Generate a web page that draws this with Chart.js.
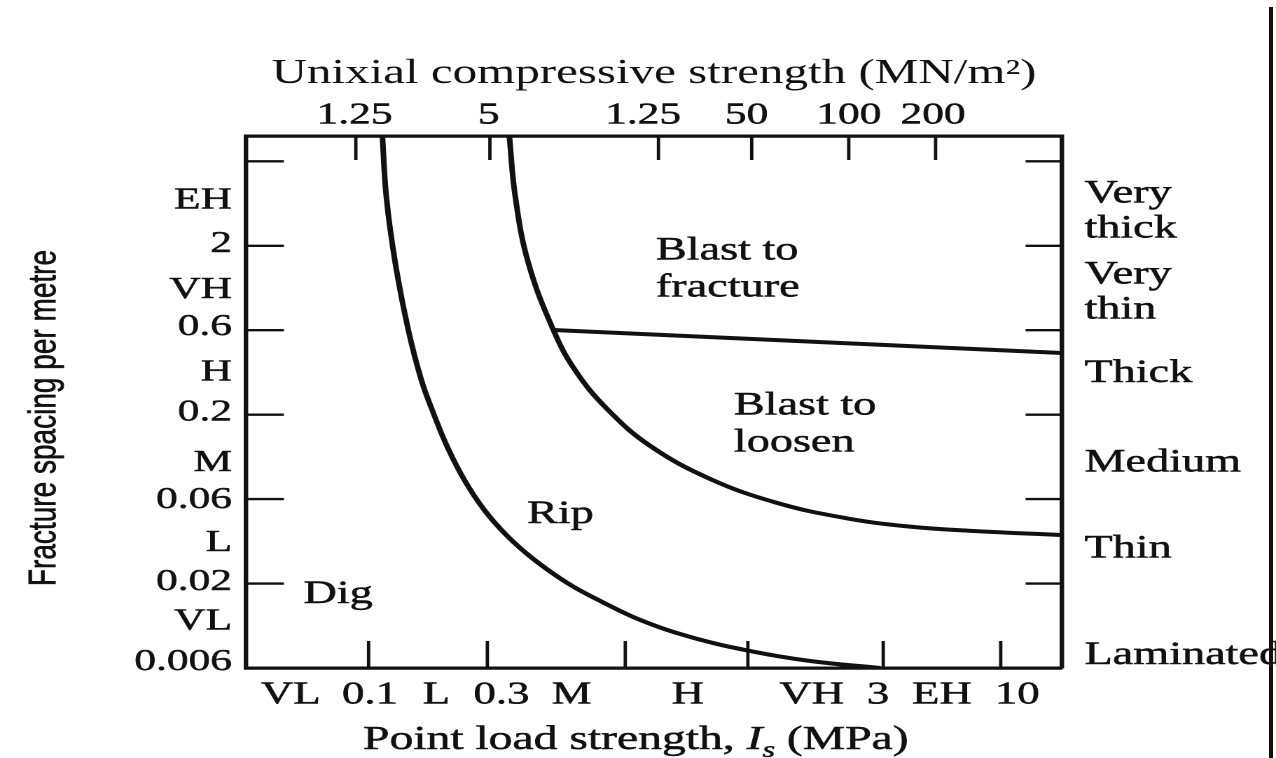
<!DOCTYPE html>
<html>
<head>
<meta charset="utf-8">
<title>Excavatability chart</title>
<script src="https://cdn.jsdelivr.net/npm/chart.js@4.4.1/dist/chart.umd.min.js"></script>
<style>
  html, body { margin: 0; padding: 0; background: #fff; overflow: hidden; }
  #stage { position: absolute; left: 0; top: 0; transform-origin: 0 0; }
  #edge { position: absolute; left: 1269px; top: 7px; width: 4px; height: 751px; background: #111; }
</style>
</head>
<body>
<div id="stage"><canvas id="chart"></canvas></div>
<div id="edge"></div>
<script>
// x and y run in class steps: each tick is one strength / spacing class boundary
const xMin = 0.06, xMax = 6.45;
const yMin = 0, yMax = 6.3;

// bottom axis - point load strength
const bottomLabels = ['VL', '0.1', 'L', '0.3', 'M', 'H', 'VH', '3', 'EH', '10'];
const bottomLabelPos = [0.41, 1.03, 1.55, 2.06, 2.61, 3.52, 4.49, 5.01, 5.51, 6.1];
const bottomTickPos = [1.02, 1.95, 3.03, 3.99, 5.05, 5.97];

// top axis - uniaxial compressive strength
const topLabels = ['1.25', '5', '1.25', '50', '100', '200'];
const topLabelPos = [0.91, 1.96, 3.17, 3.98, 4.78, 5.44];
const topTickPos = [0.92, 1.97, 3.29, 4.02, 4.78, 5.46];

// left axis - fracture spacing and class
const leftLabels = ['0.006', 'VL', '0.02', 'L', '0.06', 'M', '0.2', 'H', '0.6', 'VH', '2', 'EH'];
const leftLabelPos = [0.07, 0.55, 1.02, 1.48, 1.99, 2.43, 3.03, 3.5, 4.04, 4.48, 5.02, 5.54];
const sideTickPos = [1, 2, 3, 4, 5, 6];

// right axis - spacing description
const rightLabels = [['Laminated'], ['Thin'], ['Medium'], ['Thick'], ['Very', 'thin'], ['Very', 'thick']];
const rightLabelPos = [0.15, 1.41, 2.43, 3.49, 4.45, 5.41];

// Dig / Rip boundary
const digRipX = [1.128, 1.159, 1.229, 1.331, 1.433, 1.527, 1.637, 1.77, 1.926, 2.106, 2.31, 2.576, 2.835, 3.148, 3.54, 4.009, 4.479, 5.027];
const digRipY = [6.3, 5.578, 4.796, 4.003, 3.411, 3.02, 2.617, 2.226, 1.871, 1.563, 1.291, 1.007, 0.793, 0.568, 0.367, 0.201, 0.083, 0];

// Rip / Blast boundary
const ripBlastX = [2.122, 2.169, 2.271, 2.467, 2.639, 2.89, 3.226, 3.696, 4.221, 4.753, 5.239, 5.756, 6.45];
const ripBlastY = [6.3, 5.578, 4.796, 4.003, 3.523, 3.064, 2.629, 2.238, 1.954, 1.776, 1.677, 1.622, 1.575];

// Blast to loosen / Blast to fracture boundary
const fractureX = [2.467, 6.45];
const fractureY = [4.003, 3.73];

const zoneNames = [['Blast to', 'fracture'], ['Blast to', 'loosen'], ['Rip'], ['Dig']];

const topTitle = 'Unixial compressive strength (MN/m\u00b2)';
const leftTitle = 'Fracture spacing per metre';

// the scan is stretched sideways: draw narrower and widen the box
const pageW = 1276, pageH = 758;
const canvasW = 911, canvasH = 758;
const sx = pageW / canvasW;
const plotLeft = 246 / sx, plotRight = 1062 / sx, plotTop = 136, plotBottom = 668;

const ink = '#111';
const serif = '"Liberation Serif", "DejaVu Serif", serif';
const sans = '"Liberation Sans", "DejaVu Sans", sans-serif';
const heavy = 0.5;

const zoneAnchors = [[3.27, 4.84], [3.88, 3.0], [2.26, 1.72], [0.51, 0.77]];

const canvas = document.getElementById('chart');
canvas.width = canvasW;
canvas.height = canvasH;
document.getElementById('stage').style.transform = `scaleX(${sx})`;

const pairs = (xs, ys) => xs.map((x, i) => ({ x, y: ys[i] }));

function inkText(ctx, t, x, y) {
    ctx.fillText(t, x, y);
    ctx.strokeText(t, x, y);
}

const figureMarks = {
    id: 'figureMarks',
    afterDraw(chart) {
        const { ctx, chartArea: a, scales } = chart;
        ctx.save();

        // inward tick marks
        ctx.strokeStyle = ink;
        ctx.lineWidth = 2.4;
        ctx.beginPath();
        bottomTickPos.forEach(v => {
            const px = scales.x.getPixelForValue(v);
            ctx.moveTo(px, a.bottom);
            ctx.lineTo(px, a.bottom - 27);
        });
        topTickPos.forEach(v => {
            const px = scales.xTop.getPixelForValue(v);
            ctx.moveTo(px, a.top);
            ctx.lineTo(px, a.top + 24);
        });
        sideTickPos.forEach(v => {
            const py = scales.y.getPixelForValue(v);
            ctx.moveTo(a.left, py);
            ctx.lineTo(a.left + 27, py);
            ctx.moveTo(a.right, py);
            ctx.lineTo(a.right - 26, py);
        });
        ctx.stroke();

        // zone names
        ctx.fillStyle = ink;
        ctx.lineWidth = heavy;
        ctx.font = `33px ${serif}`;
        ctx.textAlign = 'left';
        ctx.textBaseline = 'alphabetic';
        zoneNames.forEach((lines, i) => {
            const px = scales.x.getPixelForValue(zoneAnchors[i][0]);
            const py = scales.y.getPixelForValue(zoneAnchors[i][1]);
            lines.forEach((t, k) => inkText(ctx, t, px, py + k * 37));
        });

        // bottom title, with italic I and subscript s
        const parts = [
            { t: 'Point load strength, ', f: `34px ${serif}`, dy: 0 },
            { t: 'I', f: `italic 34px ${serif}`, dy: 0 },
            { t: 's', f: `italic 23px ${serif}`, dy: 8 },
            { t: ' (MPa)', f: `34px ${serif}`, dy: 0 }
        ];
        let total = 0;
        parts.forEach(p => { ctx.font = p.f; p.w = ctx.measureText(p.t).width; total += p.w; });
        let cx = (a.left + a.right) / 2 - 13 - total / 2;
        parts.forEach(p => {
            ctx.font = p.f;
            inkText(ctx, p.t, cx, 749 + p.dy);
            cx += p.w;
        });

        // left title
        ctx.translate(32, 418);
        ctx.rotate(-Math.PI / 2);
        ctx.font = `28px ${sans}`;
        ctx.textAlign = 'center';
        ctx.textBaseline = 'middle';
        inkText(ctx, leftTitle, 0, 0);

        ctx.restore();
    }
};

const lineStyle = {
    borderColor: ink,
    borderWidth: 4,
    pointRadius: 0,
    pointHoverRadius: 0,
    showLine: true,
    fill: false,
    tension: 0.4
};

const frame = { display: true, color: ink, width: 3.2 };
const noGrid = { display: false, drawTicks: false };
const tickInk = { color: ink, textStrokeColor: ink, textStrokeWidth: heavy };

new Chart(canvas, {
    type: 'scatter',
    data: {
        datasets: [
            { ...lineStyle, data: pairs(digRipX, digRipY) },
            { ...lineStyle, data: pairs(ripBlastX, ripBlastY) },
            { ...lineStyle, data: pairs(fractureX, fractureY), tension: 0 }
        ]
    },
    options: {
        responsive: false,
        animation: false,
        devicePixelRatio: 2,
        events: [],
        layout: { padding: 0 },
        plugins: {
            legend: { display: false },
            tooltip: { enabled: false }
        },
        scales: {
            x: {
                type: 'linear', position: 'bottom', min: xMin, max: xMax, bounds: 'data',
                grid: noGrid, border: frame,
                afterBuildTicks: s => { s.ticks = bottomLabelPos.map(value => ({ value })); },
                afterFit: s => { s.height = canvasH - plotBottom; },
                ticks: {
                    ...tickInk, autoSkip: false, maxRotation: 0, minRotation: 0, padding: 8,
                    font: { family: serif, size: 32 },
                    callback: (v, i) => bottomLabels[i]
                }
            },
            xTop: {
                type: 'linear', position: 'top', min: xMin, max: xMax, bounds: 'data',
                grid: noGrid, border: frame,
                afterBuildTicks: s => { s.ticks = topLabelPos.map(value => ({ value })); },
                afterFit: s => { s.height = plotTop; },
                ticks: {
                    ...tickInk, autoSkip: false, maxRotation: 0, minRotation: 0, padding: 2,
                    font: { family: serif, size: 31 },
                    callback: (v, i) => topLabels[i]
                },
                title: {
                    display: true, text: topTitle, color: ink,
                    font: { family: serif, size: 35 },
                    padding: { top: 53, bottom: 0 }
                }
            },
            y: {
                type: 'linear', position: 'left', min: yMin, max: yMax, bounds: 'data',
                grid: noGrid, border: frame,
                afterBuildTicks: s => { s.ticks = leftLabelPos.map(value => ({ value })); },
                afterFit: s => { s.width = plotLeft; },
                ticks: {
                    ...tickInk, autoSkip: false, padding: 10,
                    font: { family: serif, size: 31 },
                    callback: (v, i) => leftLabels[i]
                }
            },
            yRight: {
                type: 'linear', position: 'right', min: yMin, max: yMax, bounds: 'data',
                grid: noGrid, border: frame,
                afterBuildTicks: s => { s.ticks = rightLabelPos.map(value => ({ value })); },
                afterFit: s => { s.width = canvasW - plotRight; },
                ticks: {
                    ...tickInk, autoSkip: false, padding: 16,
                    font: { family: serif, size: 33, lineHeight: 1.06 },
                    callback: (v, i) => rightLabels[i]
                }
            }
        }
    },
    plugins: [figureMarks]
});
</script>
</body>
</html>
